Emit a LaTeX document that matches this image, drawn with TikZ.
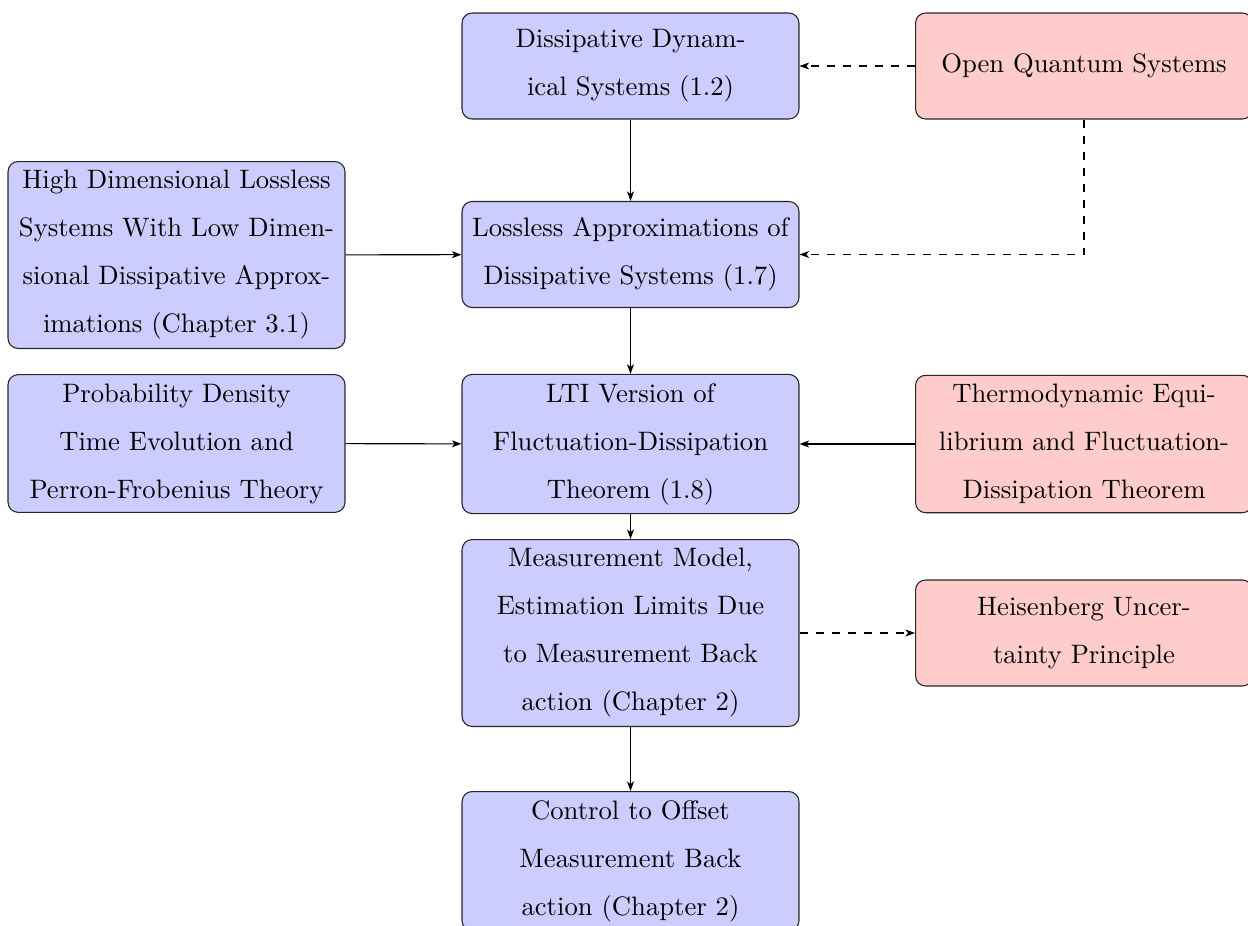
\documentclass[tikz,border=0pt]{standalone}
\usetikzlibrary{arrows.meta}
\begin{document}
\begin{tikzpicture}[x=0.375pt,y=-0.375pt,
  box/.style={draw=black!85, line width=0.4pt, rounded corners=3.8pt,
    text width=119.7pt, align=center, minimum height=39.75pt,
    inner sep=3.33pt, font=\fontsize{10}{18}\selectfont},
  bluebox/.style={box, fill=blue!20},
  redbox/.style={box, fill=red!20},
  arr/.style={-{Stealth[length=3.6pt,width=2.6pt,inset=1pt]}, line width=0.4pt},
  darr/.style={arr, dashed}]
\useasboundingbox (0,0) rectangle (1248,925);
\node[bluebox] (D) at (630.5,66) {Dissipative Dynam-\\ical Systems (1.2)};
\node[redbox] (O) at (1084,66) {Open Quantum Systems};
\node[bluebox] (L) at (630.5,254.5) {Lossless Approximations of\\Dissipative Systems (1.7)};
\node[bluebox] (H) at (176.5,255) {High Dimensional Lossless\\Systems With Low Dimen-\\sional Dissipative Approx-\\imations (Chapter 3.1)};
\node[bluebox] (P) at (176.5,443.5) {Probability Density\\Time Evolution and\\Perron-Frobenius Theory};
\node[bluebox] (T) at (630.5,444) {LTI Version of\\Fluctuation-Dissipation\\Theorem (1.8)};
\node[redbox] (Th) at (1084,444) {Thermodynamic Equi-\\librium and Fluctuation-\\Dissipation Theorem};
\node[bluebox] (M) at (630.5,633) {Measurement Model,\\Estimation Limits Due\\to Measurement Back\\action (Chapter 2)};
\node[redbox] (He) at (1084,633) {Heisenberg Uncer-\\tainty Principle};
\node[bluebox, anchor=north] (C) at (630.5,791) {Control to Offset\\Measurement Back\\action (Chapter 2)};
\draw[arr] (D) -- (L);
\draw[arr] (L) -- (T);
\draw[arr] (T) -- (M);
\draw[arr] (M) -- (C);
\draw[arr] (H) -- (L);
\draw[arr] (P) -- (T);
\draw[arr] (Th) -- (T);
\draw[darr] (O) -- (D);
\draw[darr] (O.south) |- (L.east);
\draw[darr] (M) -- (He);
\end{tikzpicture}
\end{document}
